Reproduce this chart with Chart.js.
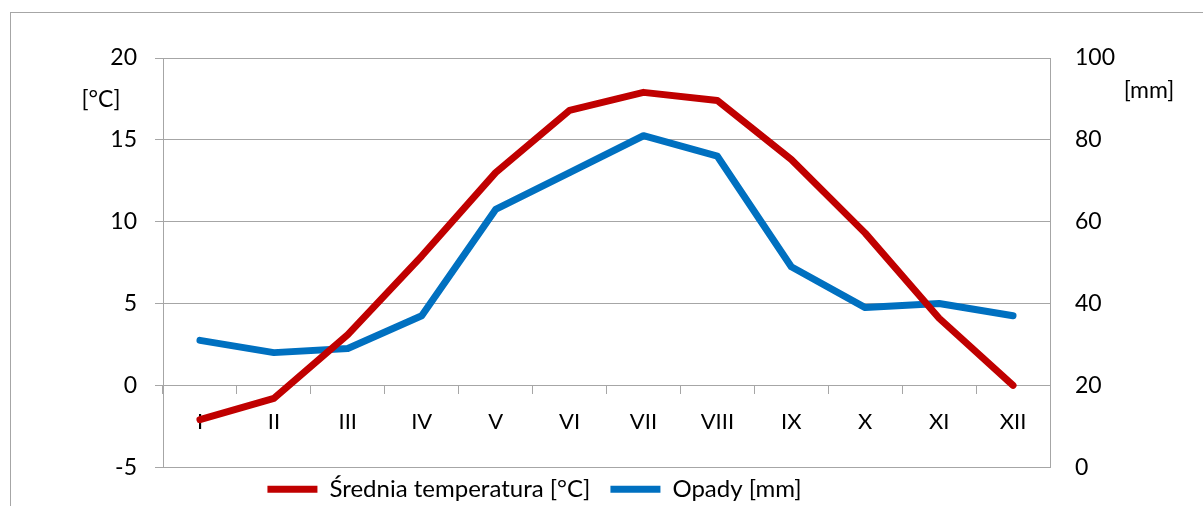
<!DOCTYPE html>
<html>
<head>
<meta charset="utf-8">
<script src="https://cdn.jsdelivr.net/npm/chart.js@4.4.1/dist/chart.umd.min.js"></script>
<style>
  body { margin: 0; background: #fff; overflow: hidden; }
  .frame { position: absolute; left: 10px; top: 12px; width: 1300px; height: 600px; border: 1px solid #a6a6a6; }
  .wrap { position: absolute; left: 0; top: 0; width: 1203px; height: 506px; }
</style>
</head>
<body>
<div class="frame"></div>
<div class="wrap"><canvas id="climateChart" width="1203" height="506"></canvas></div>
<script>
const months = ["I", "II", "III", "IV", "V", "VI", "VII", "VIII", "IX", "X", "XI", "XII"];
const temperature = [-2.1, -0.8, 3.1, 7.9, 13.0, 16.8, 17.9, 17.4, 13.8, 9.3, 4.1, 0.0];
const precipitation = [31, 28, 29, 37, 63, 72, 81, 76, 49, 39, 40, 37];
const tempTicks = [-5, 0, 5, 10, 15, 20];
const rainTicks = [0, 20, 40, 60, 80, 100];

const FONT = "Lato";
const gridColor = "#a6a6a6";

// unit labels next to the axes + legend placement tweaks
const unitLabels = {
  id: "unitLabels",
  afterInit(chart) {
    const lg = chart.legend;
    const fit = lg.fit;
    lg.fit = function () {
      fit.call(this);
      this.height = 38;
    };
  },
  afterLayout(chart) {
    const lg = chart.legend;
    lg.left -= 67;
    lg.right -= 67;
    lg.top -= 10;
  },
  afterDraw(chart) {
    const ctx = chart.ctx;
    const yl = chart.scales.y;
    const yr = chart.scales.y2;
    ctx.save();
    ctx.font = "23px " + FONT;
    ctx.fillStyle = "#000";
    ctx.textBaseline = "middle";
    ctx.textAlign = "center";
    ctx.fillText("[°C]", 101, yl.getPixelForValue(17.5) + 1);
    ctx.fillText("[mm]", 1149, yr.getPixelForValue(92));
    ctx.restore();
  },
};

new Chart(document.getElementById("climateChart"), {
  type: "line",
  data: {
    labels: months,
    datasets: [
      {
        label: "Średnia temperatura [°C]",
        data: temperature,
        yAxisID: "y",
        borderColor: "#c00000",
        backgroundColor: "#c00000",
        borderWidth: 7,
        borderCapStyle: "round",
        borderJoinStyle: "round",
        pointRadius: 0,
        tension: 0,
      },
      {
        label: "Opady [mm]",
        data: precipitation,
        yAxisID: "y2",
        borderColor: "#0070c0",
        backgroundColor: "#0070c0",
        borderWidth: 7,
        borderCapStyle: "round",
        borderJoinStyle: "round",
        pointRadius: 0,
        tension: 0,
      },
    ],
  },
  options: {
    responsive: false,
    animation: false,
    maintainAspectRatio: false,
    layout: { padding: { top: 58, right: 0, bottom: 0, left: 0 } },
    plugins: {
      tooltip: { enabled: false },
      legend: {
        position: "bottom",
        labels: {
          color: "#000",
          font: { family: FONT, size: 24 },
          usePointStyle: true,
          pointStyle: "line",
          pointStyleWidth: 50,
          padding: 20,
        },
      },
    },
    scales: {
      x: {
        position: { y: 0 },
        offset: true,
        grid: { display: true, offset: true, drawOnChartArea: false, drawTicks: true, tickLength: 8, color: gridColor },
        border: { display: true, color: gridColor },
        ticks: { color: "#000", font: { family: FONT, size: 22 }, padding: 15, maxRotation: 0 },
      },
      y: {
        position: "left",
        min: -5,
        max: 20,
        afterBuildTicks: (s) => { s.ticks = tempTicks.map((v) => ({ value: v })); },
        afterFit: (s) => { s.width = 163; },
        grid: { color: gridColor, tickLength: 8 },
        border: { color: gridColor },
        ticks: { color: "#000", font: { family: FONT, size: 23 }, padding: 18 },
      },
      y2: {
        position: "right",
        min: 0,
        max: 100,
        afterBuildTicks: (s) => { s.ticks = rainTicks.map((v) => ({ value: v })); },
        afterFit: (s) => { s.width = 153; },
        grid: { drawOnChartArea: false, drawTicks: false },
        border: { color: gridColor },
        ticks: { color: "#000", font: { family: FONT, size: 23 }, padding: 25 },
      },
    },
  },
  plugins: [unitLabels],
});
</script>
</body>
</html>
